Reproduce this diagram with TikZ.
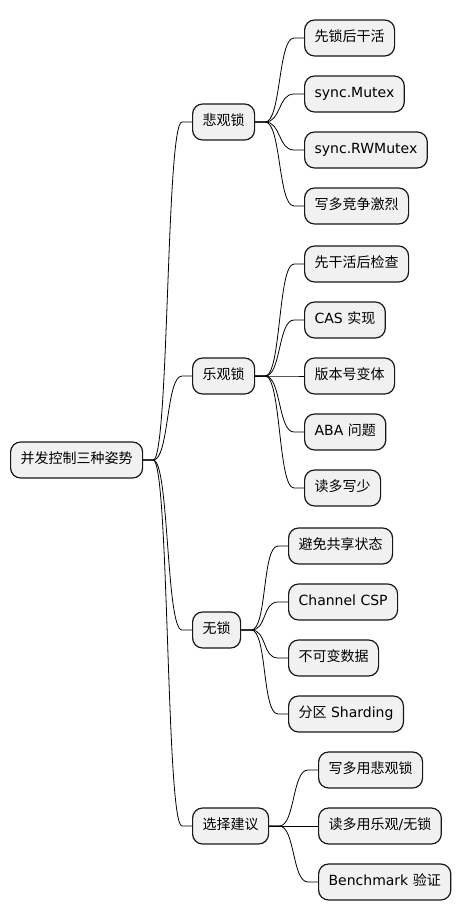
\documentclass[tikz,border=0pt]{standalone}
\usepackage{fontspec}
\setmainfont{DejaVu Sans}
\newfontfamily\cjk{Noto Sans CJK SC}
\usetikzlibrary{calc}
\definecolor{mmFill}{HTML}{F1F1F1}
\definecolor{mmLine}{HTML}{181818}

\begin{document}
\begin{tikzpicture}[x=1pt, y=-1pt,
    topic/.style={draw=mmLine, fill=mmFill, line width=1.2pt, rounded corners=10pt, anchor=west,
        minimum height=36pt, inner xsep=10pt, text height=10pt, text depth=3pt, font=\fontsize{14pt}{16pt}\selectfont},
    link/.style={line width=0.8pt, to path={-- ++(10,0) .. controls +(16,0) and +(-16,0) .. ($(\tikztotarget)+(-10,0)$) -- (\tikztotarget)}}
]
\useasboundingbox (0,0) rectangle (461,921);

% root and main branches
\node[topic] (root) at (10,460) {\cjk 并发控制三种姿势};
\node[topic] (pess) at (192,122) {\cjk 悲观锁};
\node[topic] (opt) at (192,376) {\cjk 乐观锁};
\node[topic] (free) at (192,630) {\cjk 无锁};
\node[topic] (advice) at (192,826) {\cjk 选择建议};

% pessimistic
\node[topic] (pess1) at (304,38) {\cjk 先锁后干活};
\node[topic] (pess2) at (304,94) {sync.Mutex};
\node[topic] (pess3) at (304,150) {sync.RWMutex};
\node[topic] (pess4) at (304,206) {\cjk 写多竞争激烈};

% optimistic
\node[topic] (opt1) at (304,264) {\cjk 先干活后检查};
\node[topic] (opt2) at (304,320) {CAS {\cjk 实现}};
\node[topic] (opt3) at (304,376) {\cjk 版本号变体};
\node[topic] (opt4) at (304,432) {ABA {\cjk 问题}};
\node[topic] (opt5) at (304,488) {\cjk 读多写少};

% lock free
\node[topic] (free1) at (288,546) {\cjk 避免共享状态};
\node[topic] (free2) at (288,602) {Channel CSP};
\node[topic] (free3) at (288,658) {\cjk 不可变数据};
\node[topic] (free4) at (288,714) {{\cjk 分区} Sharding};

% advice
\node[topic] (adv1) at (318,770) {\cjk 写多用悲观锁};
\node[topic] (adv2) at (318,826) {{\cjk 读多用乐观}/{\cjk 无锁}};
\node[topic] (adv3) at (318,882) {Benchmark {\cjk 验证}};

% connectors
\foreach \c in {pess, opt, free, advice}
    \draw[link] (root.east) to (\c.west);
\foreach \c in {pess1, pess2, pess3, pess4}
    \draw[link] (pess.east) to (\c.west);
\foreach \c in {opt1, opt2, opt3, opt4, opt5}
    \draw[link] (opt.east) to (\c.west);
\foreach \c in {free1, free2, free3, free4}
    \draw[link] (free.east) to (\c.west);
\foreach \c in {adv1, adv2, adv3}
    \draw[link] (advice.east) to (\c.west);
\end{tikzpicture}
\end{document}
